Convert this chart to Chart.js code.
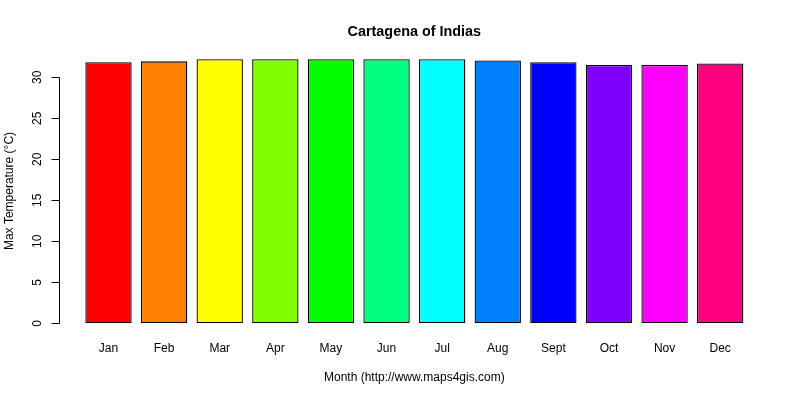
<!DOCTYPE html>
<html>
<head>
<meta charset="utf-8">
<script src="https://cdn.jsdelivr.net/npm/chart.js@4"></script>
<style>
html,body{margin:0;padding:0;background:#fff;}
#wrap{width:800px;height:400px;position:relative;}
</style>
</head>
<body>
<div id="wrap"><canvas id="c" width="800" height="400"></canvas></div>
<script>
const months = ["Jan","Feb","Mar","Apr","May","Jun","Jul","Aug","Sept","Oct","Nov","Dec"];
const maxTemp = [31.85, 31.95, 32.2, 32.2, 32.2, 32.2, 32.2, 32.05, 31.85, 31.5, 31.5, 31.7];
const barColors = ["#FF0000","#FF8000","#FFFF00","#80FF00","#00FF00","#00FF80","#00FFFF","#0080FF","#0000FF","#8000FF","#FF00FF","#FF0080"];
const yTicks = [0,5,10,15,20,25,30];
const titleText = "Cartagena of Indias";
const xTitle = "Month (http://www.maps4gis.com)";
const yTitle = "Max Temperature (°C)";

const FONT = "'Liberation Sans', Arial, sans-serif";

const rAxes = {
  id: 'rAxes',
  afterDraw(chart) {
    const ctx = chart.ctx;
    const y = chart.scales.y, x = chart.scales.x;
    const area = chart.chartArea;
    ctx.save();
    ctx.fillStyle = '#000';
    ctx.strokeStyle = '#000';
    ctx.lineWidth = 1;
    // title
    ctx.font = 'bold 14.4px ' + FONT;
    ctx.textAlign = 'center';
    ctx.textBaseline = 'alphabetic';
    ctx.fillText(titleText, (area.left + area.right) / 2, 36);
    // y axis line
    const axX = 59.5;
    const y0 = Math.round(y.getPixelForValue(yTicks[0])) + 0.5;
    const y1 = Math.round(y.getPixelForValue(yTicks[yTicks.length - 1])) + 0.5;
    ctx.beginPath();
    ctx.moveTo(axX, y0); ctx.lineTo(axX, y1);
    yTicks.forEach(v => {
      const py = Math.round(y.getPixelForValue(v)) + 0.5;
      ctx.moveTo(axX, py); ctx.lineTo(axX - 8, py);
    });
    ctx.stroke();
    ctx.font = '12px ' + FONT;
    yTicks.forEach(v => {
      const py = y.getPixelForValue(v);
      ctx.save();
      ctx.translate(38, py);
      ctx.rotate(-Math.PI / 2);
      ctx.textAlign = 'center';
      ctx.textBaseline = 'middle';
      ctx.fillText(String(v), 0, 0);
      ctx.restore();
    });
    // x labels
    ctx.textAlign = 'center';
    ctx.textBaseline = 'middle';
    months.forEach((m, i) => {
      ctx.fillText(m, x.getPixelForValue(i), 349);
    });
    // axis titles
    ctx.fillText(xTitle, (area.left + area.right) / 2, 378);
    ctx.save();
    ctx.translate(10, 191);
    ctx.rotate(-Math.PI / 2);
    ctx.fillText(yTitle, 0, 0);
    ctx.restore();
    ctx.restore();
  }
};

new Chart(document.getElementById('c'), {
  type: 'bar',
  data: {
    labels: months,
    datasets: [{
      data: maxTemp,
      backgroundColor: barColors,
      borderColor: '#000',
      borderWidth: 1.3,
      borderSkipped: false,
      categoryPercentage: 1,
      barPercentage: 1 / 1.2
    }]
  },
  options: {
    responsive: false,
    animation: false,
    devicePixelRatio: 1,
    layout: { padding: { left: 80.7, right: 52, top: 48.7, bottom: 76.7 } },
    plugins: { legend: { display: false }, title: { display: false }, tooltip: { enabled: false } },
    scales: {
      x: { display: false, offset: true },
      y: { display: false, min: 0, max: 33.49 }
    }
  },
  plugins: [rAxes]
});
</script>
</body>
</html>
